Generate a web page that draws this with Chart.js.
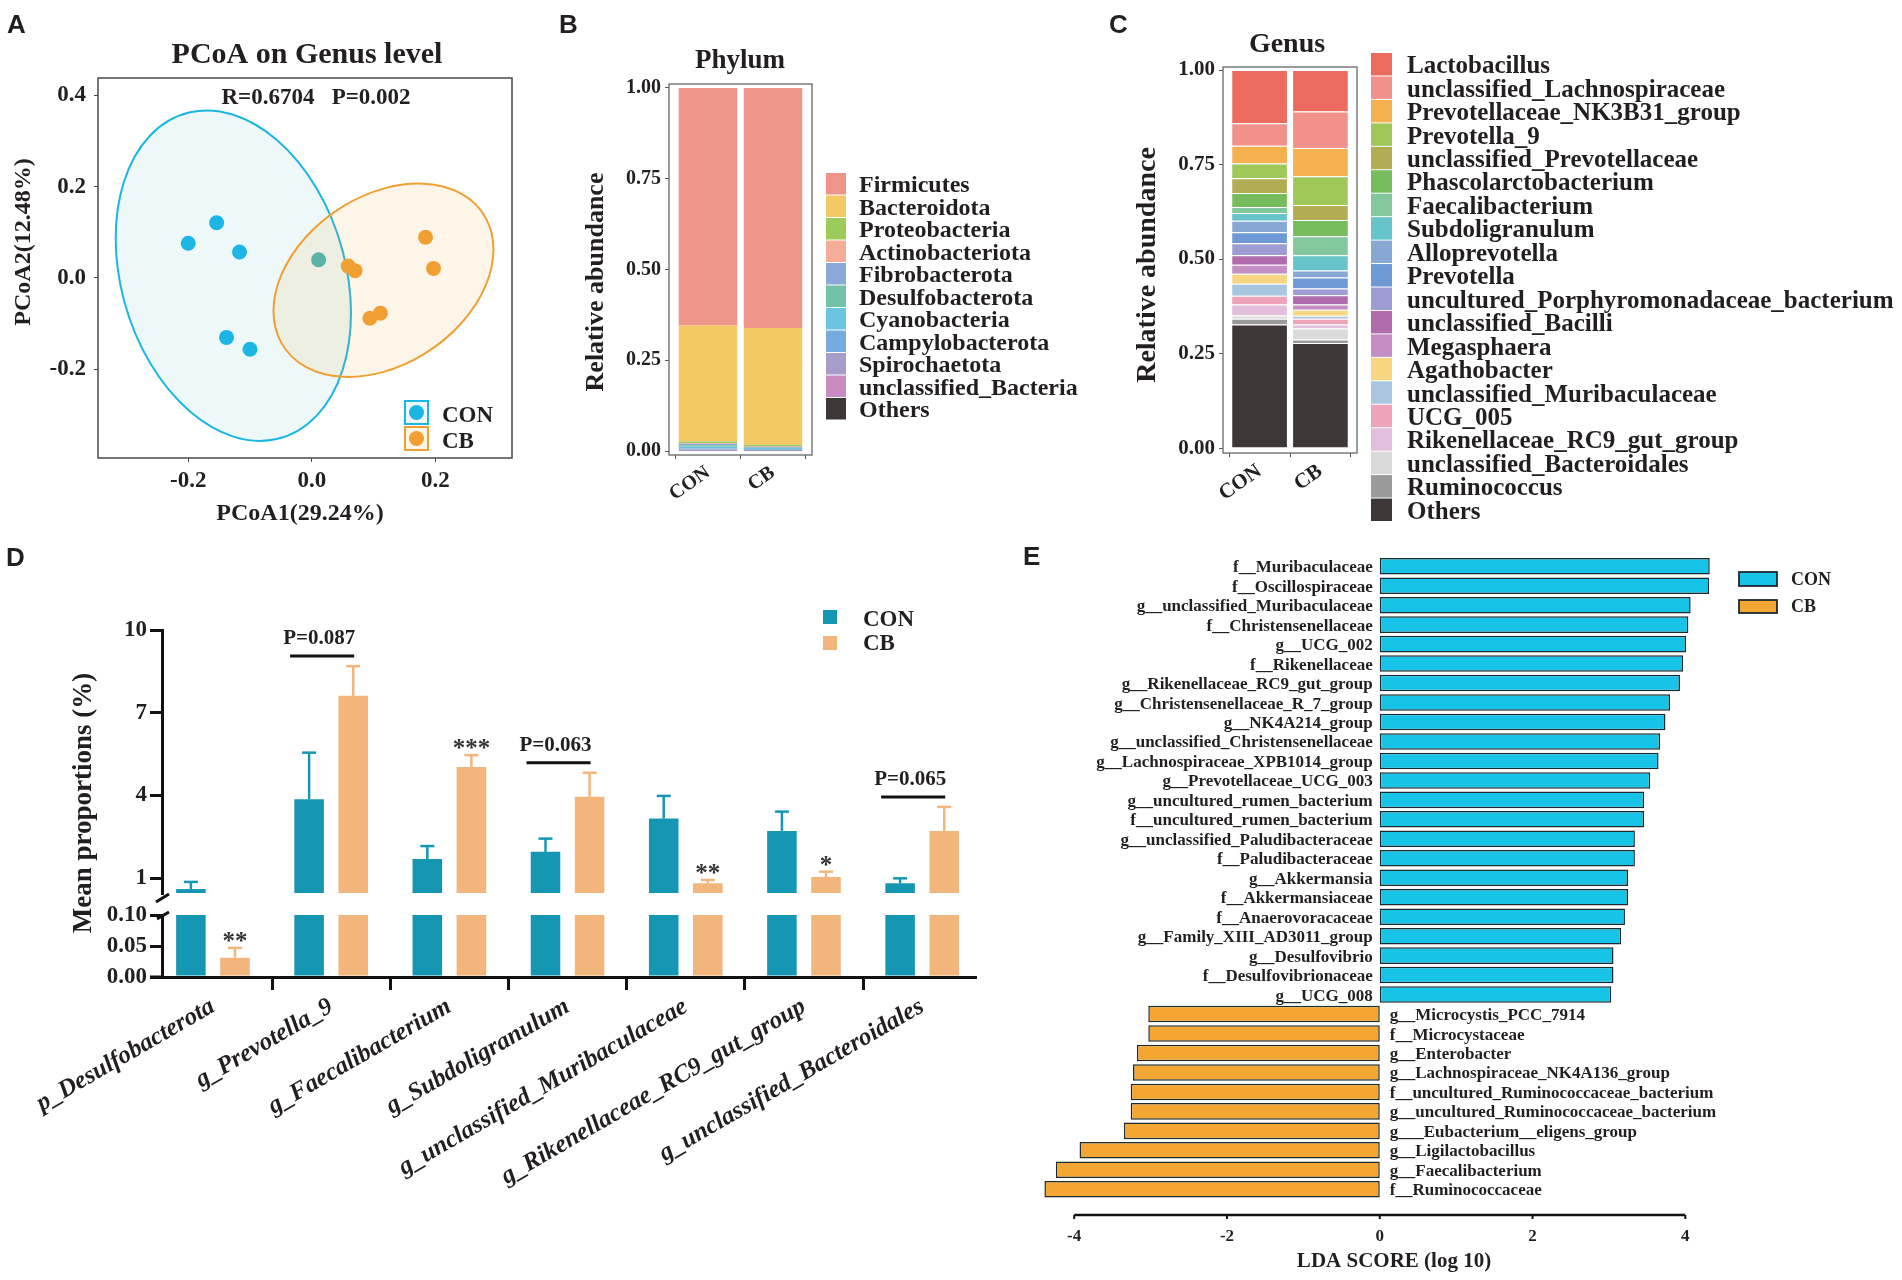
<!DOCTYPE html>
<html>
<head>
<meta charset="utf-8">
<script src="https://cdn.jsdelivr.net/npm/chart.js@4.4.0/dist/chart.umd.min.js"></script>
<style>
  html, body { margin: 0; padding: 0; background: #fff; }
  #page { position: relative; width: 1902px; height: 1280px; overflow: hidden; background: #fff; }
  canvas { position: absolute; }
</style>
</head>
<body>
<div id="page">
  <canvas id="cA" width="540" height="540" style="left:0px;top:0px"></canvas>
  <canvas id="cB" width="545" height="540" style="left:540px;top:0px"></canvas>
  <canvas id="cC" width="802" height="540" style="left:1100px;top:0px"></canvas>
  <canvas id="cD" width="1000" height="740" style="left:0px;top:540px"></canvas>
  <canvas id="cE" width="902" height="740" style="left:1000px;top:540px"></canvas>
</div>
<script>
// ---------- A: PCoA ----------
const A_CON_X = [-0.200, -0.154, -0.117, -0.138, -0.100, 0.011];
const A_CON_Y = [0.076, 0.121, 0.057, -0.130, -0.156, 0.040];
const A_CB_X = [0.059, 0.070, 0.184, 0.197, 0.094, 0.111];
const A_CB_Y = [0.026, 0.016, 0.089, 0.021, -0.088, -0.077];
// ellipse: centre x, centre y, then two conjugate semi-axes (data units)
const A_CON_ELLIPSE = [-0.127, 0.005, 0.1904, -0.0817, 0, 0.3522];
const A_CB_ELLIPSE = [0.116, -0.005, 0.178, 0.0674, 0, 0.2005];
const A_XTICKS = [-0.2, 0, 0.2];
const A_YTICKS = [-0.2, 0, 0.2, 0.4];

// ---------- B: phylum ----------
const GROUPS = ['CON', 'CB'];
const PHYLA = ['Firmicutes', 'Bacteroidota', 'Proteobacteria', 'Actinobacteriota', 'Fibrobacterota',
  'Desulfobacterota', 'Cyanobacteria', 'Campylobacterota', 'Spirochaetota', 'unclassified_Bacteria', 'Others'];
const PHY_CON = [0.654, 0.320, 0.004, 0.002, 0.004, 0.004, 0.005, 0.003, 0.002, 0.001, 0.001];
const PHY_CB = [0.661, 0.322, 0.003, 0.002, 0.003, 0.001, 0.003, 0.002, 0.002, 0.0005, 0.0005];
const PHY_COLORS = ['#EF9488', '#F4C964', '#9DCB5A', '#F4AD96', '#8AA8D8', '#72C2A9', '#6AC5E0',
  '#75ABDF', '#A89CCB', '#C98BC2', '#3D3837'];

// ---------- C: genus ----------
const GENERA = ['Lactobacillus', 'unclassified_Lachnospiraceae', 'Prevotellaceae_NK3B31_group', 'Prevotella_9',
  'unclassified_Prevotellaceae', 'Phascolarctobacterium', 'Faecalibacterium', 'Subdoligranulum', 'Alloprevotella',
  'Prevotella', 'uncultured_Porphyromonadaceae_bacterium', 'unclassified_Bacilli', 'Megasphaera', 'Agathobacter',
  'unclassified_Muribaculaceae', 'UCG_005', 'Rikenellaceae_RC9_gut_group', 'unclassified_Bacteroidales',
  'Ruminococcus', 'Others'];
const GEN_CON = [0.141, 0.059, 0.047, 0.039, 0.039, 0.037, 0.016, 0.021, 0.030, 0.029, 0.032, 0.025, 0.024,
  0.026, 0.032, 0.023, 0.029, 0.009, 0.015, 0.327];
const GEN_CB = [0.110, 0.096, 0.075, 0.076, 0.040, 0.043, 0.050, 0.040, 0.019, 0.029, 0.018, 0.024, 0.014,
  0.016, 0.008, 0.015, 0.011, 0.029, 0.009, 0.278];
const GEN_COLORS = ['#EB6B5F', '#F0928A', '#F5B04F', '#9EC85A', '#B2AC53', '#77BC5C', '#83C89D', '#66C4CA',
  '#87A8D2', '#6E99D6', '#9D9DD4', '#B06BAC', '#C48DC4', '#F7D682', '#A9C6E1', '#EEA4B8', '#E3BEDC',
  '#DADADA', '#9A9A9A', '#3D3837'];
const BAR_TICKS = [0, 0.25, 0.5, 0.75, 1];

// ---------- D: mean proportions ----------
const D_CATS = ['p_Desulfobacterota', 'g_Prevotella_9', 'g_Faecalibacterium', 'g_Subdoligranulum',
  'g_unclassified_Muribaculaceae', 'g_Rikenellaceae_RC9_gut_group', 'g_unclassified_Bacteroidales'];
const D_CON = [0.60, 3.86, 1.69, 1.95, 3.16, 2.71, 0.81];
const D_CON_SE = [0.26, 1.69, 0.47, 0.48, 0.82, 0.70, 0.18];
const D_CB = [0.031, 7.61, 5.03, 3.95, 0.81, 1.04, 2.71];
const D_CB_SE = [0.016, 1.08, 0.43, 0.87, 0.12, 0.19, 0.87];
const D_CB_SIG = ['**', '', '***', '', '**', '*', ''];
const D_PVAL = ['', 'P=0.087', '', 'P=0.063', '', '', 'P=0.065'];
const D_LOW_TICKS = [0, 0.05, 0.10];
const D_HIGH_TICKS = [1, 4, 7, 10];

// ---------- E: LEfSe ----------
const E_NAMES = ['f__Muribaculaceae', 'f__Oscillospiraceae', 'g__unclassified_Muribaculaceae',
  'f__Christensenellaceae', 'g__UCG_002', 'f__Rikenellaceae', 'g__Rikenellaceae_RC9_gut_group',
  'g__Christensenellaceae_R_7_group', 'g__NK4A214_group', 'g__unclassified_Christensenellaceae',
  'g__Lachnospiraceae_XPB1014_group', 'g__Prevotellaceae_UCG_003', 'g__uncultured_rumen_bacterium',
  'f__uncultured_rumen_bacterium', 'g__unclassified_Paludibacteraceae', 'f__Paludibacteraceae',
  'g__Akkermansia', 'f__Akkermansiaceae', 'f__Anaerovoracaceae', 'g__Family_XIII_AD3011_group',
  'g__Desulfovibrio', 'f__Desulfovibrionaceae', 'g__UCG_008', 'g__Microcystis_PCC_7914',
  'f__Microcystaceae', 'g__Enterobacter', 'g__Lachnospiraceae_NK4A136_group',
  'f__uncultured_Ruminococcaceae_bacterium', 'g__uncultured_Ruminococcaceae_bacterium',
  'g___Eubacterium__eligens_group', 'g__Ligilactobacillus', 'g__Faecalibacterium', 'f__Ruminococcaceae'];
const E_LDA = [4.32, 4.31, 4.07, 4.04, 4.01, 3.97, 3.93, 3.80, 3.74, 3.67, 3.65, 3.54, 3.46, 3.46, 3.34,
  3.34, 3.25, 3.25, 3.21, 3.16, 3.06, 3.06, 3.03, -3.03, -3.03, -3.18, -3.23, -3.26, -3.26, -3.35,
  -3.93, -4.24, -4.39];
const E_XTICKS = [-4, -2, 0, 2, 4];

// ---------- shared ----------
const SERIF = '"Liberation Serif", "Times New Roman", serif';
const SANS = '"Liberation Sans", Arial, sans-serif';
const INK = '#231f20';
Chart.defaults.font.family = SERIF;
Chart.defaults.font.weight = 'bold';
Chart.defaults.color = INK;
Chart.defaults.animation = false;
Chart.defaults.responsive = false;
Chart.defaults.devicePixelRatio = 1;
Chart.defaults.plugins.legend.display = false;
Chart.defaults.plugins.tooltip.enabled = false;

function put(ctx, s, x, y, size, o = {}) {
  ctx.save();
  ctx.font = (o.style || '') + ' bold ' + size + 'px ' + (o.family || SERIF);
  ctx.fillStyle = o.color || INK;
  ctx.textAlign = o.align || 'left';
  ctx.textBaseline = 'alphabetic';
  ctx.translate(x, y);
  if (o.rot) ctx.rotate(o.rot);
  ctx.fillText(s, 0, 0);
  ctx.restore();
}
const ticksFrom = arr => s => { s.ticks = arr.map(v => ({ value: v })); };
const ROT = -Math.PI / 2;

function frame(color, w) {
  return {
    id: 'frame',
    afterDatasetsDraw(c) {
      const a = c.chartArea, ctx = c.ctx;
      ctx.save();
      ctx.strokeStyle = color;
      ctx.lineWidth = w;
      ctx.strokeRect(a.left, a.top, a.right - a.left, a.bottom - a.top);
      ctx.restore();
    }
  };
}

// ================= A =================
const A_COL_CON = '#1BB6E3', A_COL_CB = '#F0A032';
const A_CON_PT = [A_COL_CON, A_COL_CON, A_COL_CON, A_COL_CON, A_COL_CON, '#5BB3A6'];

function drawEllipse(chart, e, stroke, fill) {
  const xs = chart.scales.x, ys = chart.scales.y, ctx = chart.ctx;
  const kx = xs.getPixelForValue(1) - xs.getPixelForValue(0);
  const ky = ys.getPixelForValue(1) - ys.getPixelForValue(0);
  ctx.save();
  ctx.beginPath();
  ctx.translate(xs.getPixelForValue(e[0]), ys.getPixelForValue(e[1]));
  ctx.transform(e[2] * kx, e[3] * ky, e[4] * kx, e[5] * ky, 0, 0);
  ctx.arc(0, 0, 1, 0, Math.PI * 2);
  ctx.restore();
  ctx.save();
  ctx.fillStyle = fill;
  ctx.fill();
  ctx.strokeStyle = stroke;
  ctx.lineWidth = 2;
  ctx.stroke();
  ctx.restore();
}

new Chart(document.getElementById('cA'), {
  type: 'scatter',
  data: {
    datasets: [
      { label: 'CON', data: A_CON_X.map((x, i) => ({ x, y: A_CON_Y[i] })), backgroundColor: A_CON_PT,
        pointRadius: 7.5, pointBorderWidth: 0 },
      { label: 'CB', data: A_CB_X.map((x, i) => ({ x, y: A_CB_Y[i] })), backgroundColor: A_COL_CB,
        pointRadius: 7.5, pointBorderWidth: 0 }
    ]
  },
  options: {
    layout: { padding: { left: 0, top: 78, right: 28, bottom: 0 } },
    scales: {
      x: {
        type: 'linear', min: -0.346, max: 0.324,
        afterBuildTicks: ticksFrom(A_XTICKS), afterFit: s => { s.height = 82; },
        ticks: { callback: v => v.toFixed(1), font: { size: 23 }, padding: 5 },
        grid: { drawOnChartArea: false, tickLength: 4, color: '#444' }, border: { display: false }
      },
      y: {
        type: 'linear', min: -0.394, max: 0.4377,
        afterBuildTicks: ticksFrom(A_YTICKS), afterFit: s => { s.width = 98; },
        ticks: { callback: v => v.toFixed(1), font: { size: 23 }, padding: 8 },
        grid: { drawOnChartArea: false, tickLength: 4, color: '#444' }, border: { display: false }
      }
    }
  },
  plugins: [
    {
      id: 'ellipses',
      beforeDatasetsDraw(c) {
        drawEllipse(c, A_CON_ELLIPSE, A_COL_CON, 'rgba(40,170,175,0.08)');
        drawEllipse(c, A_CB_ELLIPSE, A_COL_CB, 'rgba(240,160,50,0.11)');
      }
    },
    frame('#4a4a4a', 1.5),
    {
      id: 'textA',
      afterDraw(c) {
        const ctx = c.ctx;
        put(ctx, 'A', 7, 33, 26, { family: SANS });
        put(ctx, 'PCoA on Genus level', 307, 63, 30, { align: 'center' });
        put(ctx, 'R=0.6704   P=0.002', 316, 104, 23, { align: 'center' });
        put(ctx, 'PCoA1(29.24%)', 300, 520, 24, { align: 'center' });
        put(ctx, 'PCoA2(12.48%)', 30, 242, 24, { align: 'center', rot: ROT });
        [[c.data.datasets[0].label, A_COL_CON, 'rgba(40,170,175,0.08)'],
         [c.data.datasets[1].label, A_COL_CB, 'rgba(240,160,50,0.11)']].forEach((k, i) => {
          const y = 401 + i * 26;
          ctx.save();
          ctx.fillStyle = k[2];
          ctx.fillRect(405, y, 23, 23);
          ctx.strokeStyle = k[1];
          ctx.lineWidth = 2;
          ctx.strokeRect(405, y, 23, 23);
          ctx.fillStyle = k[1];
          ctx.beginPath();
          ctx.arc(416.5, y + 11.5, 7.5, 0, Math.PI * 2);
          ctx.fill();
          ctx.restore();
          put(ctx, k[0], 442, y + 21, 23);
        });
      }
    }
  ]
});

// ================= B & C stacked bars =================
function stackedChart(id, names, con, cb, colors, geo) {
  const datasets = names.map((n, k) => ({
    label: n,
    data: [{ x: 1, y: con[k] }, { x: 2, y: cb[k] }],
    backgroundColor: colors[k],
    borderColor: '#ffffff',
    borderWidth: geo.sep ? { top: geo.sep, bottom: 0, left: 0, right: 0 } : 0,
    borderSkipped: false,
    categoryPercentage: 0.9,
    barPercentage: 1
  })).reverse();
  return new Chart(document.getElementById(id), {
    type: 'bar',
    data: { datasets },
    options: {
      layout: { padding: { left: 0, top: geo.top, right: geo.right, bottom: 0 } },
      scales: {
        x: {
          type: 'linear', min: 0.4, max: 2.6, stacked: true, offset: false,
          afterBuildTicks: ticksFrom([1, 2]), afterFit: s => { s.height = geo.xh; },
          ticks: { callback: v => GROUPS[v - 1], font: { size: geo.tick }, maxRotation: 35, minRotation: 35, padding: 2 },
          grid: { drawOnChartArea: false, tickLength: 4, color: '#555' }, border: { display: false }
        },
        y: {
          type: 'linear', min: geo.ymin, max: geo.ymax, stacked: true,
          afterBuildTicks: ticksFrom(BAR_TICKS), afterFit: s => { s.width = geo.yw; },
          ticks: { callback: v => v.toFixed(2), font: { size: geo.tick }, padding: 4, autoSkip: false },
          grid: { drawOnChartArea: false, tickLength: 4, color: '#555' }, border: { display: false }
        }
      }
    },
    plugins: [
      frame('#666', 1.3),
      {
        id: 'legendText',
        afterDraw(c) {
          const ctx = c.ctx;
          names.forEach((n, i) => {
            const top = geo.lTop + i * geo.lStep;
            ctx.fillStyle = colors[i];
            ctx.fillRect(geo.keyX, top, geo.keyW, geo.lStep - 1);
            put(ctx, n, geo.textX, top + geo.lStep / 2 + geo.lSize * 0.34, geo.lSize);
          });
          put(ctx, geo.letter, geo.letterX, 33, 26, { family: SANS });
          put(ctx, geo.title, geo.titleX, geo.titleY, geo.titleSize, { align: 'center' });
          put(ctx, 'Relative abundance', geo.yTitleX, geo.yTitleY, geo.yTitleSize, { align: 'center', rot: ROT });
        }
      }
    ]
  });
}

stackedChart('cB', PHYLA, PHY_CON, PHY_CB, PHY_COLORS, {
  top: 84, right: 273, xh: 85, yw: 129, ymin: -0.011, ymax: 1.011, tick: 20, sep: 0,
  lTop: 173, lStep: 22.5, keyX: 286, keyW: 20, textX: 319, lSize: 24,
  letter: 'B', letterX: 19, title: 'Phylum', titleX: 200, titleY: 68, titleSize: 27,
  yTitleX: 63, yTitleY: 282, yTitleSize: 26
});

stackedChart('cC', GENERA, GEN_CON, GEN_CB, GEN_COLORS, {
  top: 67, right: 545, xh: 87, yw: 123, ymin: -0.013, ymax: 1.008, tick: 21, sep: 1,
  lTop: 53, lStep: 23.45, keyX: 271, keyW: 21, textX: 307, lSize: 25,
  letter: 'C', letterX: 9, title: 'Genus', titleX: 187, titleY: 52, titleSize: 28,
  yTitleX: 55, yTitleY: 265, yTitleSize: 28
});

// ================= D broken-axis bars =================
const D_COL_CON = '#1597B3', D_COL_CB = '#F2B57C';
const D_LOW_MAX = 0.10, D_HIGH_MIN = 0.457;
const barOpts = { categoryPercentage: 0.746, barPercentage: 0.67, borderWidth: 0 };
function lowPart(vals) { return vals.map((v, i) => ({ x: i, y: [0, Math.min(v, D_LOW_MAX)] })); }
function highPart(vals) {
  return vals.map((v, i) => ({ x: i, y: v > D_HIGH_MIN ? [D_HIGH_MIN, v] : null })).filter(p => p.y);
}
const dAxisGrid = { drawOnChartArea: false, tickLength: 12, lineWidth: 3, color: '#111' };

new Chart(document.getElementById('cD'), {
  type: 'bar',
  data: {
    datasets: [
      Object.assign({ label: 'CON', stack: 'con', yAxisID: 'yLow', data: lowPart(D_CON), backgroundColor: D_COL_CON }, barOpts),
      Object.assign({ label: 'CON', stack: 'con', yAxisID: 'yHigh', data: highPart(D_CON), backgroundColor: D_COL_CON }, barOpts),
      Object.assign({ label: 'CB', stack: 'cb', yAxisID: 'yLow', data: lowPart(D_CB), backgroundColor: D_COL_CB }, barOpts),
      Object.assign({ label: 'CB', stack: 'cb', yAxisID: 'yHigh', data: highPart(D_CB), backgroundColor: D_COL_CB }, barOpts)
    ]
  },
  options: {
    layout: { padding: { left: 0, top: 90, right: 25, bottom: 0 } },
    scales: {
      x: {
        type: 'linear', min: -0.431, max: 6.447, offset: false,
        afterBuildTicks: ticksFrom(D_CATS.map((_, i) => i)), afterFit: s => { s.height = 303; },
        ticks: { callback: v => D_CATS[v], autoSkip: false, maxRotation: 30, minRotation: 30,
          font: { size: 25, style: 'italic', weight: 'bold' }, padding: 2 },
        grid: { drawOnChartArea: false, tickLength: 13, lineWidth: 3, color: '#111' },
        border: { width: 3, color: '#111' }
      },
      yHigh: {
        type: 'linear', position: 'left', stack: 'd', stackWeight: 263, weight: 3, min: D_HIGH_MIN, max: 10,
        afterBuildTicks: ticksFrom(D_HIGH_TICKS), afterFit: s => { s.width = 162; },
        ticks: { callback: v => String(v), font: { size: 23 }, padding: 3, autoSkip: false },
        grid: dAxisGrid, border: { width: 3, color: '#111' }
      },
      yGap: {
        type: 'linear', position: 'left', stack: 'd', stackWeight: 22, weight: 2, min: 0, max: 1,
        afterFit: s => { s.width = 162; },
        ticks: { display: false }, grid: { display: false }, border: { display: false }
      },
      yLow: {
        type: 'linear', position: 'left', stack: 'd', stackWeight: 62, weight: 1, min: 0, max: D_LOW_MAX,
        afterBuildTicks: ticksFrom(D_LOW_TICKS), afterFit: s => { s.width = 162; },
        ticks: { callback: v => v.toFixed(2), font: { size: 23 }, padding: 3, autoSkip: false },
        grid: dAxisGrid, border: { width: 3, color: '#111' }
      }
    }
  },
  plugins: [{
    id: 'dExtras',
    afterDraw(c) {
      const ctx = c.ctx, a = c.chartArea;
      const yH = c.scales.yHigh, yL = c.scales.yLow;
      const conBars = c.getDatasetMeta(0).data, cbBars = c.getDatasetMeta(2).data;
      const line = (x1, y1, x2, y2, col, w) => {
        ctx.save(); ctx.strokeStyle = col; ctx.lineWidth = w; ctx.lineCap = 'butt';
        ctx.beginPath(); ctx.moveTo(x1, y1); ctx.lineTo(x2, y2); ctx.stroke(); ctx.restore();
      };
      const errBar = (x, v, e, col) => {
        const s = v > D_LOW_MAX ? yH : yL;
        const y0 = s.getPixelForValue(v), y1 = s.getPixelForValue(v + e);
        line(x, y0, x, y1, col, 2.5);
        line(x - 7, y1, x + 7, y1, col, 2.5);
        return y1;
      };
      D_CATS.forEach((_, i) => {
        const xc = conBars[i].x, xb = cbBars[i].x;
        const capC = errBar(xc, D_CON[i], D_CON_SE[i], D_COL_CON);
        const capB = errBar(xb, D_CB[i], D_CB_SE[i], D_COL_CB);
        if (D_CB_SIG[i]) put(ctx, D_CB_SIG[i], xb, capB + 1, 25, { align: 'center', color: '#333' });
        if (D_PVAL[i]) {
          const ly = Math.min(capC, capB) - 10;
          line(xc - 19, ly, xb + 1, ly, '#111', 3);
          put(ctx, D_PVAL[i], (xc + xb) / 2 - 12, ly - 12, 21, { align: 'center' });
        }
      });
      // axis break marks and axis stub
      const l = a.left;
      line(l - 6, yH.bottom + 9, l + 7, yH.bottom + 1, '#111', 3);
      line(l - 5, yL.top + 4, l + 7, yL.top - 3, '#111', 3);
      line(l - 12, a.bottom, l, a.bottom, '#111', 3);
      // legend
      ctx.fillStyle = D_COL_CON; ctx.fillRect(823, 70, 14, 14);
      ctx.fillStyle = D_COL_CB; ctx.fillRect(823, 96, 14, 14);
      put(ctx, 'CON', 863, 86, 23);
      put(ctx, 'CB', 863, 110, 23);
      put(ctx, 'D', 6, 26, 26, { family: SANS });
      put(ctx, 'Mean proportions (%)', 91, 263, 27, { align: 'center', rot: ROT });
    }
  }]
});

// ================= E LDA =================
const E_COL_CON = '#17C3E6', E_COL_CB = '#F4A633', E_EDGE = '#1d2a2f';
const eBar = { borderColor: E_EDGE, borderWidth: 1.5, borderSkipped: false, stack: 'lda',
  categoryPercentage: 1, barPercentage: 0.85 };

new Chart(document.getElementById('cE'), {
  type: 'bar',
  data: {
    labels: E_NAMES,
    datasets: [
      Object.assign({ label: 'CON', data: E_LDA.map(v => v > 0 ? v : null), backgroundColor: E_COL_CON }, eBar),
      Object.assign({ label: 'CB', data: E_LDA.map(v => v < 0 ? v : null), backgroundColor: E_COL_CB }, eBar)
    ]
  },
  options: {
    indexAxis: 'y',
    layout: { padding: { left: 36, top: 16.5, right: 178.5, bottom: 0 } },
    scales: {
      x: {
        type: 'linear', min: -4.5, max: 4.5,
        afterBuildTicks: ticksFrom(E_XTICKS), afterFit: s => { s.height = 81; },
        ticks: { callback: v => String(v), font: { size: 17 }, padding: 27 },
        grid: { display: false, drawTicks: false }, border: { display: false }
      },
      y: { type: 'category', display: false }
    }
  },
  plugins: [{
    id: 'eExtras',
    afterDraw(c) {
      const ctx = c.ctx, xs = c.scales.x, ys = c.scales.y, a = c.chartArea;
      const zero = xs.getPixelForValue(0);
      E_NAMES.forEach((n, i) => {
        const y = ys.getPixelForValue(i) + 6;
        if (E_LDA[i] > 0) put(ctx, n, zero - 7, y, 17, { align: 'right' });
        else put(ctx, n, zero + 10, y, 17);
      });
      const ay = a.bottom + 16;
      ctx.save();
      ctx.strokeStyle = '#111';
      ctx.lineWidth = 2.5;
      ctx.beginPath();
      ctx.moveTo(xs.getPixelForValue(E_XTICKS[0]), ay);
      ctx.lineTo(xs.getPixelForValue(E_XTICKS[E_XTICKS.length - 1]), ay);
      ctx.stroke();
      ctx.lineWidth = 2;
      E_XTICKS.forEach(t => {
        const x = xs.getPixelForValue(t);
        ctx.beginPath(); ctx.moveTo(x, ay); ctx.lineTo(x, ay + 4); ctx.stroke();
      });
      // legend
      ctx.lineWidth = 1.8;
      ctx.strokeStyle = E_EDGE;
      ctx.fillStyle = E_COL_CON; ctx.fillRect(739, 32, 38, 14); ctx.strokeRect(739, 32, 38, 14);
      ctx.fillStyle = E_COL_CB; ctx.fillRect(739, 60, 38, 13); ctx.strokeRect(739, 60, 38, 13);
      ctx.restore();
      put(ctx, 'CON', 791, 45, 18);
      put(ctx, 'CB', 791, 72, 18);
      put(ctx, 'LDA SCORE (log 10)', 394, 727, 21, { align: 'center' });
      put(ctx, 'E', 23, 25, 26, { family: SANS });
    }
  }]
});
</script>
</body>
</html>
